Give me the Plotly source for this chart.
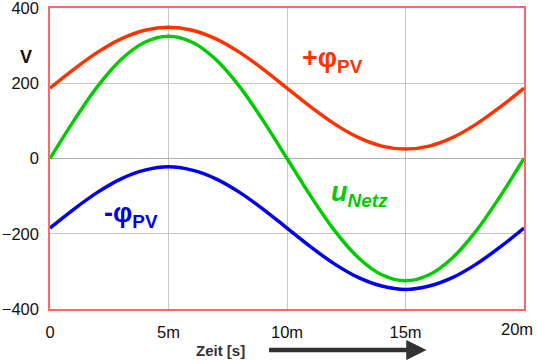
import plotly.graph_objects as go

# time in ms
t_ms = [0, 1, 2, 3, 4, 5, 6, 7, 8, 9, 10, 11, 12, 13, 14, 15, 16, 17, 18, 19, 20]
u_netz = [0, 100, 191, 263, 309, 325, 309, 263, 191, 100, 0, -100, -191, -263, -309, -325, -309, -263, -191, -100, 0]
phi_plus = [187, 237, 282, 318, 341, 349, 341, 318, 282, 237, 187, 137, 92, 56, 33, 25, 33, 56, 92, 137, 187]
phi_minus = [-185, -135, -90, -54, -31, -22, -31, -54, -90, -135, -185, -235, -280, -316, -339, -348, -339, -316, -280, -235, -185]

x_tickvals = [0, 5, 10, 15, 20]
x_ticktext = ["0", "5m", "10m", "15m", ""]
last_x_label = "20m"
y_tickvals = [-400, -200, 0, 200, 400]

RED = "#ff3300"
GREEN = "#00cc00"
BLUE = "#0000ee"
FONT = "Liberation Sans, Arial, sans-serif"

fig = go.Figure()
fig.add_trace(go.Scatter(x=t_ms, y=phi_plus, mode="lines", line=dict(color=RED, width=3.5, shape="spline")))
fig.add_trace(go.Scatter(x=t_ms, y=u_netz, mode="lines", line=dict(color=GREEN, width=3.5, shape="spline")))
fig.add_trace(go.Scatter(x=t_ms, y=phi_minus, mode="lines", line=dict(color=BLUE, width=3.5, shape="spline")))

fig.update_layout(
    width=537, height=360,
    margin=dict(l=50, r=13, t=8, b=51, autoexpand=False),
    paper_bgcolor="white", plot_bgcolor="white",
    showlegend=False,
    font=dict(family=FONT, size=16.5, color="#111111"),
)
fig.update_xaxes(
    range=[0, 20], tickvals=x_tickvals, ticktext=x_ticktext,
    showgrid=True, gridcolor="#c4c4c4", gridwidth=1.3,
    showline=True, linecolor="#ff6666", linewidth=1.5, mirror=True,
    zeroline=False, ticks="", ticklabelstandoff=7, automargin=False,
    ticklabeloverflow="allow",
)
fig.update_yaxes(
    range=[-400, 400], tickvals=y_tickvals,
    showgrid=True, gridcolor="#c4c4c4", gridwidth=1.3,
    showline=True, linecolor="#ff6666", linewidth=1.5, mirror=True,
    zeroline=True, zerolinecolor="#b0b0b0", zerolinewidth=1.3,
    ticks="", ticklabelstandoff=6, automargin=False,
    ticklabeloverflow="allow",
)

fig.add_annotation(x=11.93, y=262, text="<b>+φ<sub>PV</sub></b>", showarrow=False,
                   font=dict(color=RED, size=27, family=FONT))
fig.add_annotation(x=13.06, y=-95, text="<b><i>u<sub>Netz</sub></i></b>", showarrow=False,
                   font=dict(color=GREEN, size=27, family=FONT))
fig.add_annotation(x=3.41, y=-150, text="<b>-φ<sub>PV</sub></b>", showarrow=False,
                   font=dict(color=BLUE, size=27, family=FONT))
fig.add_annotation(xref="paper", yref="paper", x=(26 - 50) / 474.6, y=(309 - 57) / 301,
                   xanchor="center", yanchor="middle", text="<b>V</b>",
                   showarrow=False, font=dict(size=18, family=FONT, color="#111111"))
fig.add_annotation(xref="paper", yref="paper", x=1.0, y=(309 - 329) / 301, xanchor="right",
                   yanchor="middle", xshift=11, text=last_x_label, showarrow=False,
                   font=dict(size=16.5, family=FONT, color="#111111"))
fig.add_annotation(xref="paper", yref="paper", x=(221 - 50) / 474.6, y=(309 - 350) / 301,
                   xanchor="center", yanchor="middle",
                   text="<b>Zeit [s]</b>", showarrow=False,
                   font=dict(size=15, family=FONT, color="#333333"))
fig.add_annotation(xref="paper", yref="paper", x=(427 - 50) / 474.6, y=(309 - 350) / 301,
                   ax=-159, ay=0, text="", showarrow=True, arrowhead=2, arrowsize=0.9,
                   arrowwidth=4.5, arrowcolor="#333333")

fig.write_html("out.html", config={"displayModeBar": False},
               post_script="document.body.style.margin='0';")
